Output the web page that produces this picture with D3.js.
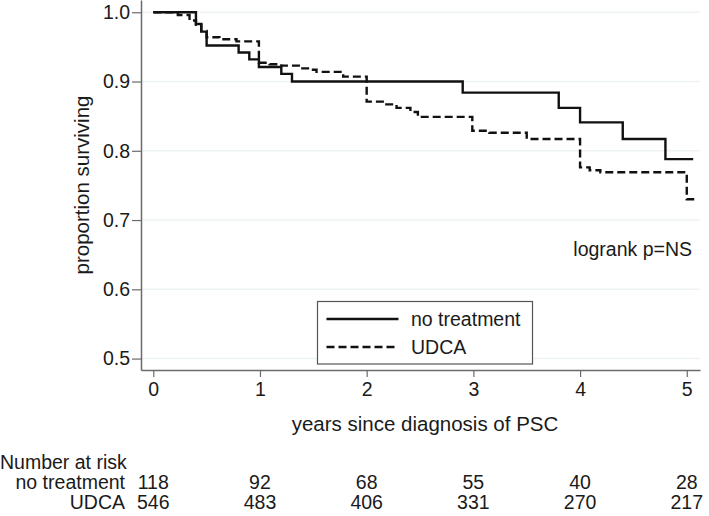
<!DOCTYPE html>
<html><head><meta charset="utf-8">
<script src="https://cdn.jsdelivr.net/npm/d3@7"></script>
<style>
html,body{margin:0;padding:0;background:#fff;}
text{font-family:"Liberation Sans",Arial,Helvetica,sans-serif;fill:#1a1a1a;}
</style></head>
<body><div id="chart"></div>
<script>
// ---- data ----
const noTxTimes = [0, 0.40, 0.45, 0.50, 0.80, 0.90, 0.99, 1.20, 1.30, 2.90, 3.80, 4.00, 4.40, 4.80, 5.06];
const noTxSurv  = [1.0, 0.983, 0.972, 0.952, 0.942, 0.932, 0.921, 0.911, 0.900, 0.884, 0.862, 0.841, 0.817, 0.788, 0.788];
const udcaTimes = [0, 0.23, 0.34, 0.40, 0.45, 0.50, 0.62, 0.78, 0.99, 1.09, 1.20, 1.38, 1.47, 1.53, 1.78, 2.00, 2.17, 2.28, 2.41, 2.48, 2.99, 3.15, 3.50, 4.00, 4.09, 4.19, 5.00, 5.09];
const udcaSurv  = [1.0, 0.996, 0.988, 0.982, 0.973, 0.964, 0.961, 0.958, 0.927, 0.925, 0.923, 0.919, 0.917, 0.914, 0.907, 0.871, 0.867, 0.862, 0.856, 0.849, 0.829, 0.826, 0.817, 0.776, 0.772, 0.769, 0.730, 0.730];
const xTicks = [0, 1, 2, 3, 4, 5];
const yTicks = [0.5, 0.6, 0.7, 0.8, 0.9, 1.0];
const riskGroups = ["no treatment", "UDCA"];
const riskNoTx = [118, 92, 68, 55, 40, 28];
const riskUdca = [546, 483, 406, 331, 270, 217];
const seriesNames = ["no treatment", "UDCA"];

// ---- layout ----
const W = 709, H = 516;
const svg = d3.select("#chart").append("svg").attr("width", W).attr("height", H);
const x = d3.scaleLinear().domain([-0.115, 5.124]).range([141, 700]);
const y = d3.scaleLinear().domain([0.4835, 1.0177]).range([370, 0]);
const FS = "19.5px";

// gridlines
svg.append("g").selectAll("line").data(yTicks).join("line")
  .attr("x1", 142).attr("x2", 700)
  .attr("y1", d => y(d)).attr("y2", d => y(d))
  .attr("stroke", "#edf2f3").attr("stroke-width", 1.5);

// axes
const yAxis = svg.append("g").attr("transform", "translate(141,0)")
  .call(d3.axisLeft(y).tickValues(yTicks).tickFormat(d3.format(".1f")).tickSize(9).tickSizeOuter(0).tickPadding(2));
const xAxis = svg.append("g").attr("transform", "translate(0,370)")
  .call(d3.axisBottom(x).tickValues(xTicks).tickFormat(d3.format("d")).tickSize(7).tickSizeOuter(0).tickPadding(5));
[yAxis, xAxis].forEach(g => {
  g.select(".domain").attr("stroke", "#6b6b6b").attr("stroke-width", 1.5);
  g.selectAll(".tick line").attr("stroke", "#6b6b6b").attr("stroke-width", 1.2);
  g.selectAll("text").style("font-size", FS).attr("fill", "#1a1a1a")
   .style("font-family", '"Liberation Sans",Arial,sans-serif');
});

// axis titles
svg.append("text").attr("transform", "translate(89,185) rotate(-90)")
  .attr("text-anchor", "middle").style("font-size", "20.5px").text("proportion surviving");
svg.append("text").attr("x", 425).attr("y", 431)
  .attr("text-anchor", "middle").style("font-size", "20.5px").text("years since diagnosis of PSC");

// curves
const line = d3.line().x(d => x(d[0])).y(d => y(d[1])).curve(d3.curveStepAfter);
const noTx = noTxTimes.map((t, i) => [t, noTxSurv[i]]);
const udca = udcaTimes.map((t, i) => [t, udcaSurv[i]]);
svg.append("path").datum(udca).attr("d", line).attr("fill", "none")
  .attr("stroke", "#111").attr("stroke-width", 2.4).attr("stroke-dasharray", "8,4");
svg.append("path").datum(noTx).attr("d", line).attr("fill", "none")
  .attr("stroke", "#111").attr("stroke-width", 2.4);

// annotation
svg.append("text").attr("x", 692).attr("y", 256).attr("text-anchor", "end")
  .style("font-size", FS).text("logrank p=NS");

// legend
const lg = svg.append("g");
lg.append("rect").attr("x", 317.5).attr("y", 301.5).attr("width", 215).attr("height", 62.5)
  .attr("fill", "#fff").attr("stroke", "#555").attr("stroke-width", 1.2);
seriesNames.forEach((name, i) => {
  const cy = 319 + i * 28;
  lg.append("line").attr("x1", 326.5).attr("x2", 398.5).attr("y1", cy).attr("y2", cy)
    .attr("stroke", "#111").attr("stroke-width", 2.4)
    .attr("stroke-dasharray", i === 1 ? "8,4" : null);
  lg.append("text").attr("x", 411).attr("y", cy + 7).style("font-size", FS).text(name);
});

// number at risk table
svg.append("text").attr("x", 0).attr("y", 469).style("font-size", FS).text("Number at risk");
[riskNoTx, riskUdca].forEach((row, r) => {
  const by = 489 + r * 20;
  svg.append("text").attr("x", 125).attr("y", by).attr("text-anchor", "end")
    .style("font-size", FS).text(riskGroups[r]);
  svg.append("g").selectAll("text").data(row).join("text")
    .attr("x", (d, i) => x(xTicks[i])).attr("y", by).attr("text-anchor", "middle")
    .style("font-size", FS).text(d => d);
});
</script></body></html>
